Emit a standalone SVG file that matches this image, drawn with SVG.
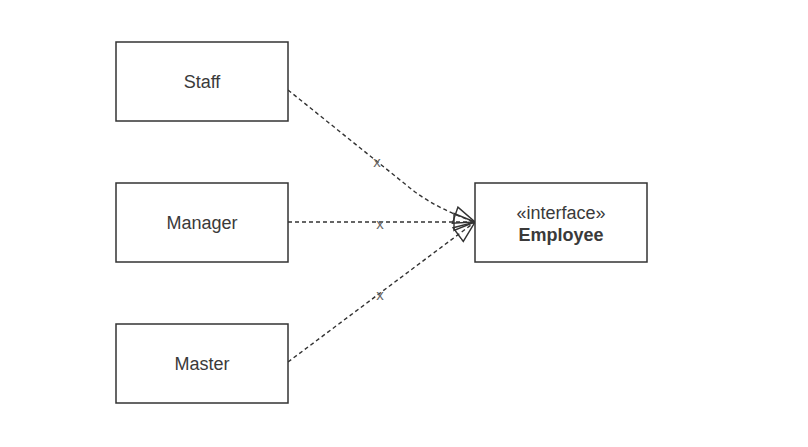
<svg xmlns="http://www.w3.org/2000/svg" width="808" height="447" viewBox="0 0 808 447">
<style>
.box{fill:#fff;stroke:#333;stroke-width:1.5}
.lbl{font-family:"Liberation Sans",Arial,sans-serif;font-size:18px;fill:#3a3a3a;text-anchor:middle}
.edge{fill:none;stroke:#333;stroke-width:1.4;stroke-dasharray:4 3}
.ex{font-family:"Liberation Sans",Arial,sans-serif;font-size:15px;fill:#666;text-anchor:middle}
</style>
<defs>
<marker id="tri" markerUnits="userSpaceOnUse" markerWidth="26" markerHeight="22" refX="22" refY="10" orient="auto" viewBox="0 0 26 22">
<path d="M1,1.5 L22,10 L1,18.5 Z" fill="none" stroke="#333" stroke-width="1.4"/>
</marker>
</defs>
<rect width="808" height="447" fill="#fff"/>
<g id="edges">
<path class="edge" d="M288,90 L415,192 Q440,210 475,222" marker-end="url(#tri)"/>
<path class="edge" d="M288,222 L475,222" marker-end="url(#tri)"/>
<path class="edge" d="M288,362 L475,222" marker-end="url(#tri)"/>
<text class="ex" x="377" y="167">x</text>
<text class="ex" x="380" y="229">x</text>
<text class="ex" x="380" y="300">x</text>
</g>
<g id="staff">
<rect class="box" x="116" y="42" width="172" height="79"/>
<text class="lbl" x="202" y="88">Staff</text>
</g>
<g id="manager">
<rect class="box" x="116" y="183" width="172" height="79"/>
<text class="lbl" x="202" y="229">Manager</text>
</g>
<g id="master">
<rect class="box" x="116" y="324" width="172" height="79"/>
<text class="lbl" x="202" y="370">Master</text>
</g>
<g id="employee">
<rect class="box" x="475" y="183" width="172" height="79"/>
<text class="lbl" x="561" y="219">«interface»</text>
<text class="lbl" x="561" y="241" font-weight="bold">Employee</text>
</g>
</svg>
